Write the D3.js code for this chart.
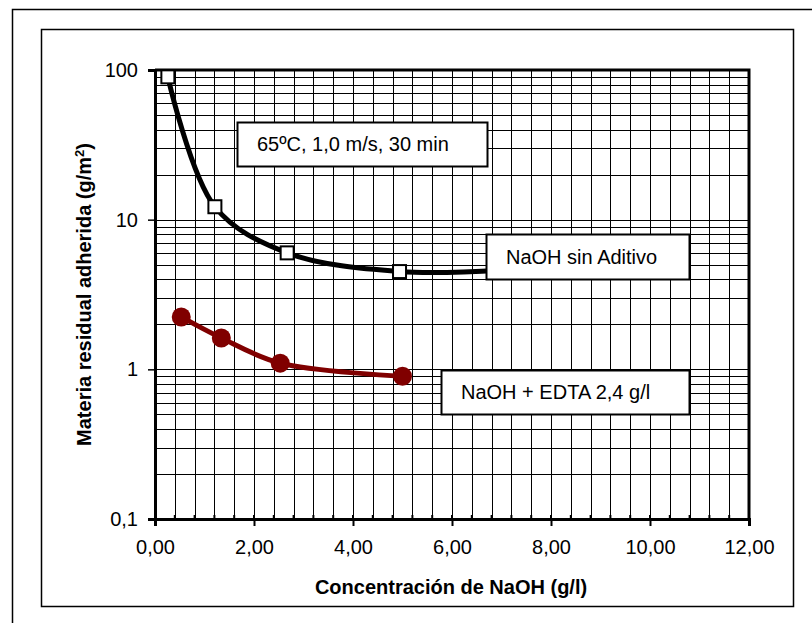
<!DOCTYPE html>
<html>
<head>
<meta charset="utf-8">
<script src="https://cdn.jsdelivr.net/npm/d3@7"></script>
<style>
  body { margin: 0; background: #fff; }
  text { font-family: "Liberation Sans", Arial, sans-serif; }
</style>
</head>
<body>
<div class="chart"></div>
<script>
// data
const sinAditivoX = [0.26, 1.21, 2.67, 4.94, 7.0];
const sinAditivoY = [90, 12.2, 6.0, 4.5, 4.6];
const edtaX = [0.53, 1.34, 2.53, 5.0];
const edtaY = [2.24, 1.62, 1.10, 0.90];
const xTicks = [0, 2, 4, 6, 8, 10, 12];
const yTicks = [0.1, 1, 10, 100];
const seriesNames = ['NaOH sin Aditivo', 'NaOH + EDTA 2,4 g/l'];
const noteText = '65ºC, 1,0 m/s, 30 min';

const FULL_WIDTH = 812;
const FULL_HEIGHT = 623;
const plot = { left: 155, top: 70, right: 749, bottom: 519 };
const FONT = '"Liberation Sans", Arial, sans-serif';

const svg = d3.select('.chart')
  .append('svg')
    .attr('width', FULL_WIDTH)
    .attr('height', FULL_HEIGHT);

// outer frames
svg.append('rect')
  .attr('x', 12.5).attr('y', 9.5)
  .attr('width', 820).attr('height', 640)
  .attr('fill', '#fff').attr('stroke', '#000').attr('stroke-width', 1.5);
svg.append('rect')
  .attr('x', 41.5).attr('y', 29.5)
  .attr('width', 752).attr('height', 577)
  .attr('fill', '#fff').attr('stroke', '#000').attr('stroke-width', 1.5);

const xScale = d3.scaleLinear().domain([0, 12]).range([plot.left, plot.right]);
const yScale = d3.scaleLog().domain([0.1, 100]).range([plot.bottom, plot.top]);

// grid
const grid = svg.append('g');
const xGrid = d3.range(1, 30).map(i => i * 0.4);
grid.selectAll('.vg')
  .data(xGrid)
  .enter().append('line')
    .attr('x1', d => Math.round(xScale(d)) + 0.5)
    .attr('x2', d => Math.round(xScale(d)) + 0.5)
    .attr('y1', plot.top).attr('y2', plot.bottom)
    .attr('stroke', '#000').attr('stroke-width', 1);
const yGrid = [];
[0.1, 1, 10].forEach(dec => d3.range(1, 10).forEach(k => yGrid.push(dec * k)));
grid.selectAll('.hg')
  .data(yGrid.filter(v => v > 0.1 && v < 100))
  .enter().append('line')
    .attr('x1', plot.left).attr('x2', plot.right)
    .attr('y1', d => Math.round(yScale(d)) + 0.5)
    .attr('y2', d => Math.round(yScale(d)) + 0.5)
    .attr('stroke', '#000').attr('stroke-width', 1);

// frame top/right
svg.append('path')
  .attr('d', `M${plot.left},${plot.top}H${plot.right}V${plot.bottom}`)
  .attr('fill', 'none').attr('stroke', '#000').attr('stroke-width', 3);

// x axis
const xAxis = svg.append('g')
  .attr('transform', `translate(0, ${plot.bottom})`)
  .call(d3.axisBottom(xScale)
    .tickValues(xTicks)
    .tickSize(7)
    .tickFormat(d => d3.format('.2f')(d).replace('.', ',')));
xAxis.select('.domain').attr('stroke-width', 3);
xAxis.selectAll('.tick line').attr('stroke-width', 2);
xAxis.selectAll('text')
  .attr('font-size', 20).attr('fill', '#000').attr('y', 21).attr('dy', '0.71em')
  .attr('font-family', FONT);
svg.append('g').selectAll('line')
  .data(xGrid)
  .enter().append('line')
    .attr('x1', d => xScale(d)).attr('x2', d => xScale(d))
    .attr('y1', plot.bottom - 4).attr('y2', plot.bottom)
    .attr('stroke', '#000').attr('stroke-width', 2);

// y axis
const yAxis = svg.append('g')
  .attr('transform', `translate(${plot.left}, 0)`)
  .call(d3.axisLeft(yScale)
    .tickValues(yTicks)
    .tickSize(7)
    .tickFormat(d => String(d).replace('.', ',')));
yAxis.select('.domain').attr('stroke-width', 3);
yAxis.selectAll('.tick line').attr('stroke-width', 1.5);
yAxis.selectAll('text')
  .attr('font-size', 20).attr('fill', '#000').attr('x', -17)
  .attr('font-family', FONT);

// axis titles
svg.append('text')
  .attr('x', 451).attr('y', 594)
  .attr('text-anchor', 'middle')
  .attr('font-size', 20).attr('font-weight', 'bold')
  .text('Concentración de NaOH (g/l)');
const yTitle = svg.append('text')
  .attr('transform', `translate(91, ${(plot.top + plot.bottom) / 2}) rotate(-90)`)
  .attr('text-anchor', 'middle')
  .attr('font-size', 20).attr('font-weight', 'bold');
yTitle.append('tspan').text('Materia residual adherida (g/m');
yTitle.append('tspan').attr('font-size', 13).attr('dy', -7).text('2');
yTitle.append('tspan').attr('dy', 7).text(')');

// series
const line = d3.line()
  .x(d => xScale(d[0]))
  .y(d => yScale(d[1]))
  .curve(d3.curveCatmullRom.alpha(0.5));

const blackData = sinAditivoX.map((x, i) => [x, sinAditivoY[i]]);
const redData = edtaX.map((x, i) => [x, edtaY[i]]);

svg.append('path')
  .datum(blackData)
  .attr('d', line)
  .attr('fill', 'none').attr('stroke', '#000').attr('stroke-width', 5);
svg.selectAll('.sq')
  .data(blackData)
  .enter().append('rect')
    .attr('x', d => xScale(d[0]) - 6.5)
    .attr('y', d => yScale(d[1]) - 6.5)
    .attr('width', 13).attr('height', 13)
    .attr('fill', '#fff').attr('stroke', '#000').attr('stroke-width', 2);

svg.append('path')
  .datum(redData)
  .attr('d', line)
  .attr('fill', 'none').attr('stroke', '#800000').attr('stroke-width', 5);
svg.selectAll('.dot')
  .data(redData)
  .enter().append('circle')
    .attr('cx', d => xScale(d[0]))
    .attr('cy', d => yScale(d[1]))
    .attr('r', 9.5)
    .attr('fill', '#800000');

// label boxes
function labelBox (x, y, w, h, txt, tx) {
  svg.append('rect')
    .attr('x', x + 0.5).attr('y', y + 0.5)
    .attr('width', w).attr('height', h)
    .attr('fill', '#fff').attr('stroke', '#000').attr('stroke-width', 2);
  svg.append('text')
    .attr('x', x + tx).attr('y', y + h / 2 + 7)
    .attr('font-size', 20)
    .text(txt);
}
labelBox(237, 122, 250, 44, noteText, 20);
labelBox(486, 234, 203, 45, seriesNames[0], 20);
labelBox(441, 370, 248, 44, seriesNames[1], 20);
</script>
</body>
</html>
